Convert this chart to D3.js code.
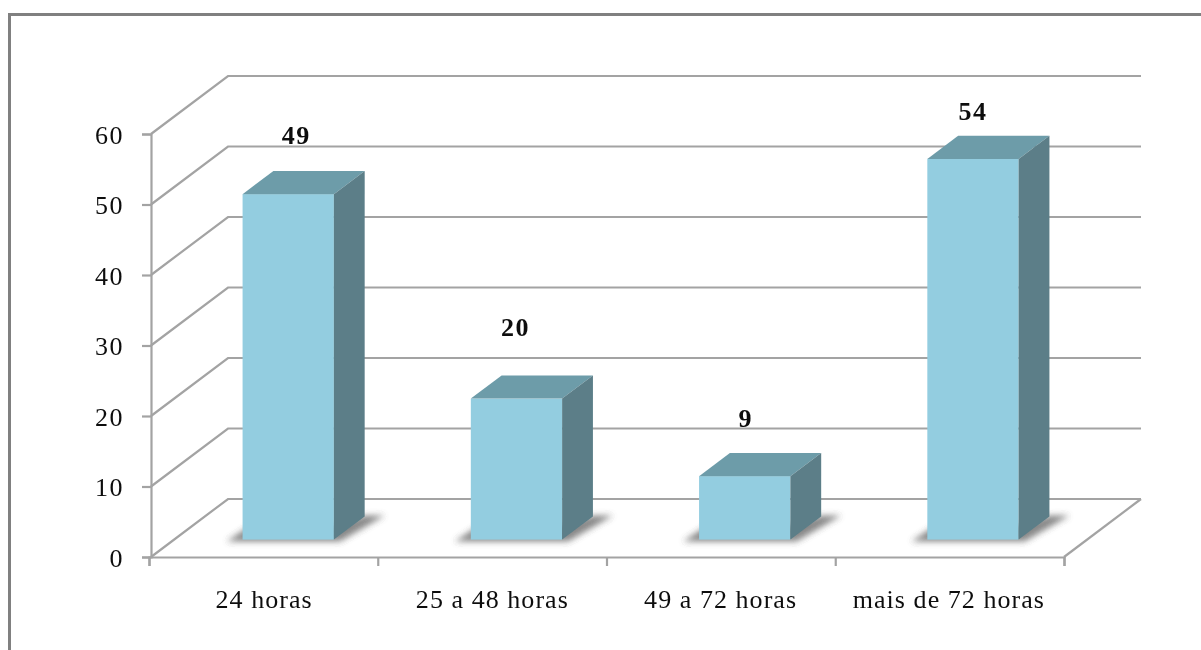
<!DOCTYPE html>
<html><head><meta charset="utf-8">
<script src="https://cdn.jsdelivr.net/npm/d3@7/dist/d3.min.js"></script>
<style>html,body{margin:0;padding:0;background:#fff;overflow:hidden}svg{display:block}
text{font-family:"Liberation Serif",serif;fill:#111}</style></head>
<body><svg id="c" width="1201" height="650"></svg>
<script>
const categories=["24 horas","25 a 48 horas","49 a 72 horas","mais de 72 horas"];
const values=[49,20,9,54];
const yTicks=[0,10,20,30,40,50,60];
const labelShift=[[8,-50],[-1,-63],[1,-49],[0,-39]];

const svg=d3.select("#c");
const defs=svg.append("defs");
defs.append("filter").attr("id","soft").attr("x","-2%").attr("y","-2%").attr("width","104%").attr("height","104%")
  .append("feGaussianBlur").attr("stdDeviation",0.45);
defs.append("filter").attr("id","shadow").attr("x","-30%").attr("y","-50%").attr("width","160%").attr("height","200%")
  .append("feGaussianBlur").attr("stdDeviation",3);

const root=svg.append("g").attr("filter","url(#soft)");
const x0=151,x1=1064,y0=557,y1=134,dx=77,dy=-58;
const x=d3.scaleBand().domain(categories).range([x0,x1]).paddingInner(0.6).paddingOuter(0.3);
const y=d3.scaleLinear().domain([0,60]).range([y0,y1]);
const gray="#a3a3a3";

root.append("path").attr("d","M1201,14.5H9.5V650").attr("fill","none").attr("stroke","#808080").attr("stroke-width",3);

root.append("g").selectAll("path").data(yTicks).join("path")
  .attr("fill","none").attr("stroke",gray).attr("stroke-width",2.2)
  .attr("d",d=>`M${x0},${y(d)}L${x0+dx},${y(d)+dy}H${x1+dx}`);
root.append("path").attr("fill","none").attr("stroke",gray).attr("stroke-width",2.2)
  .attr("d",`M${x1},${y0}L${x1+dx},${y0+dy}`);

const yAxis=d3.axisLeft(y).tickValues(yTicks).tickSize(9).tickPadding(18);
const ga=root.append("g").attr("transform",`translate(${x0},0)`).call(yAxis);
const xTickScale=d3.scaleLinear().domain([0,categories.length]).range([x0-2,x1]);
const xAxis=d3.axisBottom(xTickScale).tickValues(d3.range(categories.length+1)).tickSize(9).tickFormat("");
const gb=root.append("g").attr("transform",`translate(0,${y0})`).call(xAxis);
[ga,gb].forEach(g=>{g.selectAll("path,line").attr("stroke",gray).attr("stroke-width",2.2);});
ga.selectAll("text").attr("font-size",26).attr("fill","#111").attr("letter-spacing",1.5)
  .style("font-family",'"Liberation Serif",serif');
ga.selectAll(".tick text").attr("dy","0.36em");

root.append("g").selectAll("text").data(categories).join("text")
  .attr("x",d=>x(d)+x.bandwidth()/2-1).attr("y",608).attr("text-anchor","middle")
  .attr("font-size",26).attr("letter-spacing",1.05).text(d=>d);

const fx=0.3, bw=x.bandwidth();
const ox=dx*fx, oy=dy*fx;
const bx=dx*0.4, by=dy*0.4;
const bars=root.append("g").selectAll("g").data(categories.map((c,i)=>({c,v:values[i],i}))).join("g");
const L=d=>x(d.c)+ox, R=d=>L(d)+bw, T=d=>y(d.v)+oy, B=()=>y(0)+oy;
bars.append("path").attr("fill","#5a5a5a").attr("opacity",0.72).attr("filter","url(#shadow)")
  .attr("d",d=>`M${L(d)-16},${B()+2}L${L(d)+8},${B()-14}H${R(d)}L${R(d)+bx},${B()+by-1}H${R(d)+bx+20}L${R(d)+6},${B()+2}Z`);
bars.append("rect").attr("x",L).attr("y",T).attr("width",bw).attr("height",d=>B()-T(d)).attr("fill","#93cde0");
bars.append("path").attr("fill","#6d9ca9")
  .attr("d",d=>`M${L(d)},${T(d)}L${L(d)+bx},${T(d)+by}H${R(d)+bx}L${R(d)},${T(d)}Z`);
bars.append("path").attr("fill","#5b7e88")
  .attr("d",d=>`M${R(d)},${T(d)}L${R(d)+bx},${T(d)+by}V${B()+by}L${R(d)},${B()}Z`);
bars.append("text").attr("text-anchor","middle").attr("font-size",26).attr("font-weight","bold").attr("letter-spacing",1.5)
  .attr("x",d=>(L(d)+R(d))/2+labelShift[d.i][0]).attr("y",d=>T(d)+labelShift[d.i][1]).text(d=>d.v);
</script></body></html>
